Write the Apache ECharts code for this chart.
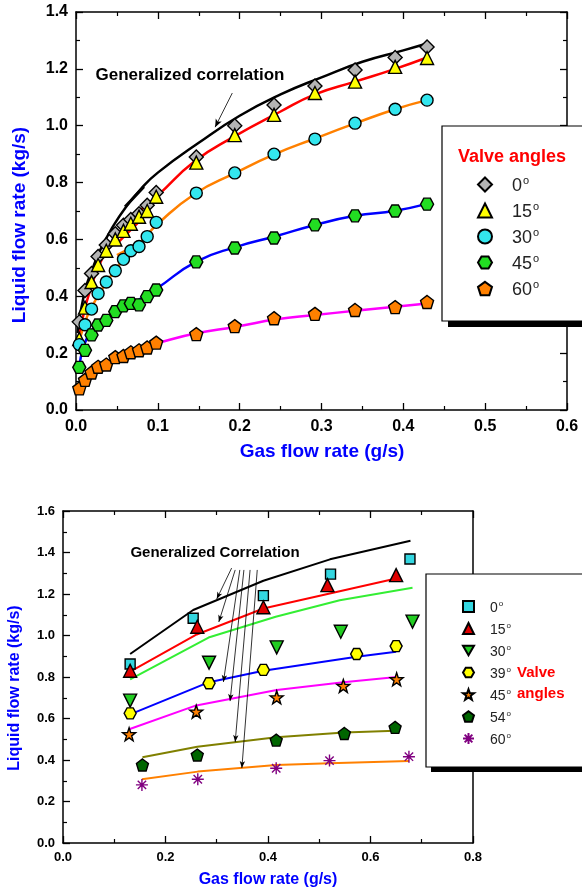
<!DOCTYPE html>
<html>
<head>
<meta charset="utf-8">
<style>html,body{margin:0;padding:0;background:#fff}#main{width:582px;height:894px}</style>
<script src="https://cdn.jsdelivr.net/npm/echarts@6/dist/echarts.min.js"></script>
</head>
<body>
<div id="main"></div>
<script>
// ---- upper chart: measured points (g/s, kg/s) ----
var gasLow  = [0.004, 0.011, 0.019, 0.027, 0.037, 0.048, 0.058, 0.067, 0.077, 0.087, 0.098];
var gasHigh = [0.147, 0.194, 0.242, 0.292, 0.341, 0.39, 0.429];
var liq0  = [0.31, 0.42, 0.48, 0.54, 0.58, 0.62, 0.65, 0.67, 0.69, 0.72, 0.765, 0.89, 1.0, 1.073, 1.14, 1.196, 1.24, 1.277];
var liq15 = [0.25, 0.36, 0.45, 0.51, 0.56, 0.60, 0.63, 0.655, 0.68, 0.70, 0.75, 0.87, 0.967, 1.038, 1.115, 1.155, 1.207, 1.238];
var liq30 = [0.23, 0.30, 0.355, 0.41, 0.45, 0.49, 0.53, 0.56, 0.575, 0.61, 0.66, 0.763, 0.834, 0.90, 0.953, 1.009, 1.058, 1.09];
var liq45 = [0.15, 0.21, 0.264, 0.299, 0.315, 0.346, 0.366, 0.375, 0.37, 0.399, 0.422, 0.521, 0.57, 0.605, 0.651, 0.683, 0.70, 0.724];
var liq60 = [0.076, 0.106, 0.132, 0.152, 0.16, 0.186, 0.19, 0.203, 0.21, 0.22, 0.237, 0.267, 0.295, 0.323, 0.338, 0.352, 0.362, 0.38];

// upper chart: fitted curves
var corrX = [0.002, 0.01, 0.02, 0.03, 0.045, 0.06, 0.08, 0.1, 0.15, 0.2, 0.25, 0.3, 0.35, 0.4, 0.43];
var corrY = [0.27, 0.41, 0.495, 0.565, 0.645, 0.71, 0.78, 0.835, 0.94, 1.035, 1.11, 1.17, 1.225, 1.265, 1.29];
var fit15X = [0.003, 0.008, 0.015, 0.03, 0.05, 0.078, 0.1, 0.145, 0.192, 0.25, 0.292, 0.341, 0.39, 0.429];
var fit15Y = [0.24, 0.32, 0.40, 0.52, 0.615, 0.70, 0.755, 0.875, 0.96, 1.05, 1.11, 1.155, 1.20, 1.24];
var fit30X = [0.003, 0.01, 0.017, 0.033, 0.054, 0.082, 0.1, 0.145, 0.194, 0.243, 0.292, 0.341, 0.39, 0.429];
var fit30Y = [0.23, 0.30, 0.35, 0.43, 0.515, 0.60, 0.655, 0.76, 0.833, 0.90, 0.955, 1.008, 1.058, 1.09];
var fit45X = [0.004, 0.009, 0.017, 0.029, 0.046, 0.062, 0.078, 0.099, 0.147, 0.196, 0.245, 0.292, 0.341, 0.39, 0.429];
var fit45Y = [0.152, 0.22, 0.27, 0.305, 0.334, 0.363, 0.39, 0.428, 0.522, 0.574, 0.612, 0.651, 0.683, 0.701, 0.725];
var fit60X = [0.004, 0.013, 0.029, 0.05, 0.078, 0.099, 0.147, 0.196, 0.245, 0.292, 0.341, 0.39, 0.429];
var fit60Y = [0.07, 0.111, 0.147, 0.188, 0.217, 0.235, 0.27, 0.293, 0.319, 0.334, 0.349, 0.363, 0.375];
// short fits through the 0.05-0.09 g/s points
var short0X  = [0.06, 0.083], short0Y  = [0.715, 0.785];
var shortX   = [0.05, 0.09];
var short15Y = [0.585, 0.70];
var short30Y = [0.545, 0.605];
var short45Y = [0.355, 0.39];
var short60Y = [0.19, 0.225];

// ---- lower chart: measured points ----
var b0X  = [0.131, 0.254, 0.391, 0.522, 0.677], b0Y  = [0.863, 1.083, 1.192, 1.296, 1.369];
var b15X = [0.131, 0.262, 0.391, 0.516, 0.65],  b15Y = [0.83, 1.042, 1.136, 1.243, 1.291];
var b30X = [0.131, 0.285, 0.417, 0.542, 0.682], b30Y = [0.686, 0.869, 0.943, 1.018, 1.067];
var b39X = [0.131, 0.285, 0.391, 0.573, 0.65],  b39Y = [0.625, 0.77, 0.834, 0.911, 0.949];
var b45X = [0.129, 0.26, 0.417, 0.547, 0.651],  b45Y = [0.524, 0.633, 0.702, 0.757, 0.789];
var b54X = [0.155, 0.262, 0.416, 0.549, 0.648], b54Y = [0.376, 0.424, 0.496, 0.528, 0.557];
var b60X = [0.154, 0.263, 0.416, 0.52, 0.675],  b60Y = [0.28, 0.307, 0.36, 0.397, 0.416];

// lower chart: generalized correlation lines
var c0X  = [0.131, 0.254, 0.391, 0.521, 0.678], c0Y  = [0.911, 1.123, 1.264, 1.367, 1.457];
var c15X = [0.131, 0.261, 0.391, 0.65],         c15Y = [0.826, 1.005, 1.13, 1.275];
var c30X = [0.131, 0.284, 0.415, 0.54, 0.682],  c30Y = [0.789, 0.99, 1.09, 1.17, 1.23];
var c39X = [0.131, 0.285, 0.391, 0.573, 0.65],  c39Y = [0.62, 0.775, 0.83, 0.898, 0.922];
var c45X = [0.129, 0.26, 0.417, 0.547, 0.651],  c45Y = [0.548, 0.663, 0.737, 0.775, 0.80];
var c54X = [0.155, 0.262, 0.416, 0.549, 0.648], c54Y = [0.413, 0.464, 0.51, 0.532, 0.541];
var c60X = [0.154, 0.263, 0.416, 0.52, 0.675],  c60Y = [0.307, 0.344, 0.376, 0.384, 0.395];

// annotation arrows, [from, to] in data units
var topArrows = [[[0.191, 1.115], [0.170, 0.995]]];
var botArrows = [
    [[0.329, 1.325], [0.300, 1.176]],
    [[0.336, 1.316], [0.304, 1.065]],
    [[0.345, 1.316], [0.313, 0.776]],
    [[0.353, 1.316], [0.326, 0.684]],
    [[0.365, 1.316], [0.336, 0.487]],
    [[0.379, 1.316], [0.349, 0.361]]
];

var FONT = 'Arial, "Liberation Sans", sans-serif';
var HEX = 'path://M-10,0 L-5,-8.66 L5,-8.66 L10,0 L5,8.66 L-5,8.66 Z';
var PENT = 'path://M0,-10 L9.51,-3.09 L5.88,8.09 L-5.88,8.09 L-9.51,-3.09 Z';
var STAR = 'path://M0,-10 L2.35,-3.24 L9.51,-3.09 L3.8,1.24 L5.88,8.09 L0,4 L-5.88,8.09 L-3.8,1.24 L-9.51,-3.09 L-2.35,-3.24 Z';
var DOWN = 'path://M-10,-8 L10,-8 L0,9 Z';
var ASTER = 'path://M0,-10 L0,10 M-10,0 L10,0 M-7,-7 L7,7 M-7,7 L7,-7';

function zip(xs, ys) {
    return xs.map(function (x, i) { return [x, ys[i]]; });
}

function arrowLines(list) {
    return list.map(function (a) { return [{ coord: a[0] }, { coord: a[1] }]; });
}

function axis(grid, pos, max, step, opts) {
    var main = pos === 'bottom' || pos === 'left';
    return {
        type: 'value', gridIndex: grid, position: pos, min: 0, max: max, interval: step,
        axisLine: { show: true, onZero: false, lineStyle: { color: '#000', width: 1.5 } },
        axisTick: { show: opts.ticks, inside: true, length: 7, lineStyle: { color: '#000', width: 1.3 } },
        minorTick: { show: opts.ticks, splitNumber: 2, length: 4, lineStyle: { color: '#000', width: 1.2 } },
        splitLine: { show: false },
        axisLabel: {
            show: main, margin: opts.margin, fontFamily: FONT, fontWeight: 'bold',
            fontSize: opts.size, color: '#000',
            formatter: function (v) { return v.toFixed(1); }
        }
    };
}

function scatter(name, xi, xs, ys, symbol, size, fill, border) {
    return {
        name: name, type: 'scatter', xAxisIndex: xi, yAxisIndex: xi,
        data: zip(xs, ys), symbol: symbol, symbolSize: size, z: 4,
        itemStyle: { color: fill, borderColor: border || '#000', borderWidth: 1.4, opacity: 1 }
    };
}

function curve(xi, xs, ys, color, width, smooth) {
    return {
        type: 'line', xAxisIndex: xi, yAxisIndex: xi, data: zip(xs, ys),
        smooth: smooth, symbol: 'none', z: 3,
        lineStyle: { color: color, width: width }
    };
}

function legendBlock(names, left, top, gap, size, icon) {
    var sup = Math.round(size * 0.6);
    return {
        data: names, orient: 'vertical', left: left, top: top, itemGap: gap,
        itemWidth: icon, itemHeight: icon, selectedMode: false, z: 11,
        formatter: function (n) { return '{n|' + n.slice(1) + '}{s|o}'; },
        textStyle: {
            fontFamily: FONT, fontSize: size, color: '#222', padding: [0, 0, 0, size - 3],
            rich: {
                n: { fontFamily: FONT, fontSize: size, color: '#222', lineHeight: size + 3, verticalAlign: 'bottom' },
                s: { fontFamily: FONT, fontSize: sup, color: '#222', lineHeight: sup,
                     verticalAlign: 'bottom', padding: [0, 0, Math.round(size * 0.5), 1] }
            }
        }
    };
}

var chart = echarts.init(document.getElementById('main'));

var topAll = gasLow.concat(gasHigh);

var series = [
    curve(0, corrX, corrY, '#000', 2.5, true),
    curve(0, fit15X, fit15Y, '#ff0000', 2.5, true),
    curve(0, fit30X, fit30Y, '#ff8000', 2.5, true),
    curve(0, fit45X, fit45Y, '#0000ff', 2.5, true),
    curve(0, fit60X, fit60Y, '#ff00ff', 2.5, true),
    curve(0, short0X, short0Y, '#000', 3, false),
    curve(0, shortX, short15Y, '#ff0000', 2.5, false),
    curve(0, shortX, short30Y, '#ff8000', 2.5, false),
    curve(0, shortX, short45Y, '#0000ff', 2.5, false),
    curve(0, shortX, short60Y, '#ff00ff', 2.5, false),
    scatter('T0', 0, topAll, liq0, 'diamond', 14, '#b4b4b4'),
    scatter('T15', 0, topAll, liq15, 'triangle', 13, '#ffff00'),
    scatter('T30', 0, topAll, liq30, 'circle', 12, '#33e6ee'),
    scatter('T45', 0, topAll, liq45, HEX, [13, 12], '#22dd22'),
    scatter('T60', 0, topAll, liq60, PENT, 13, '#ff8000'),

    curve(2, c0X, c0Y, '#000', 2, false),
    curve(2, c15X, c15Y, '#ff0000', 2, false),
    curve(2, c30X, c30Y, '#33ee33', 2, false),
    curve(2, c39X, c39Y, '#0000ff', 2, false),
    curve(2, c45X, c45Y, '#ff00ff', 2, false),
    curve(2, c54X, c54Y, '#808000', 2, false),
    curve(2, c60X, c60Y, '#ff8000', 2, false),
    scatter('B0', 2, b0X, b0Y, 'rect', 10, '#33d6e0'),
    scatter('B15', 2, b15X, b15Y, 'triangle', 13, '#e00000'),
    scatter('B30', 2, b30X, b30Y, DOWN, 13, '#22cc22'),
    scatter('B39', 2, b39X, b39Y, HEX, [12, 11], '#ffff00'),
    scatter('B45', 2, b45X, b45Y, STAR, 13, '#ff8000'),
    scatter('B54', 2, b54X, b54Y, PENT, 12, '#006600'),
    scatter('B60', 2, b60X, b60Y, ASTER, 12, '#800080', '#800080')
];

// arrows from the "Generalized correlation" labels
series[0].markLine = {
    silent: true, symbol: ['none', 'arrow'], symbolSize: [5, 8], label: { show: false },
    lineStyle: { color: '#000', width: 0.8, type: 'solid' }, data: arrowLines(topArrows)
};
series[15].markLine = {
    silent: true, symbol: ['none', 'arrow'], symbolSize: [4, 7], label: { show: false },
    lineStyle: { color: '#000', width: 0.8, type: 'solid' }, data: arrowLines(botArrows)
};

chart.setOption({
    animation: false,
    backgroundColor: '#fff',
    grid: [
        { left: 76, top: 12, width: 491, height: 398 },
        { left: 63, top: 511, width: 410, height: 332 }
    ],
    xAxis: [
        axis(0, 'bottom', 0.6, 0.1, { ticks: true, margin: 9, size: 16 }),
        axis(0, 'top', 0.6, 0.1, { ticks: true }),
        axis(1, 'bottom', 0.8, 0.2, { ticks: true, margin: 8, size: 13 }),
        axis(1, 'top', 0.8, 0.2, { ticks: true })
    ],
    yAxis: [
        axis(0, 'left', 1.4, 0.2, { ticks: true, margin: 8, size: 16 }),
        axis(0, 'right', 1.4, 0.2, { ticks: true }),
        axis(1, 'left', 1.6, 0.2, { ticks: true, margin: 8, size: 13 }),
        axis(1, 'right', 1.6, 0.2, { ticks: false })
    ],
    legend: [
        legendBlock(['T0', 'T15', 'T30', 'T45', 'T60'], 472, 170, 6, 18, 14),
        legendBlock(['B0', 'B15', 'B30', 'B39', 'B45', 'B54', 'B60'], 457, 595, 7, 14, 11)
    ],
    graphic: [
        // legend boxes with a solid offset shadow
        { type: 'rect', z: 9, shape: { x: 448, y: 132, width: 160, height: 195 }, style: { fill: '#000' } },
        { type: 'rect', z: 10, shape: { x: 442, y: 126, width: 160, height: 195 },
          style: { fill: '#fff', stroke: '#000', lineWidth: 1.2 } },
        { type: 'rect', z: 9, shape: { x: 431, y: 579, width: 170, height: 193 }, style: { fill: '#000' } },
        { type: 'rect', z: 10, shape: { x: 426, y: 574, width: 170, height: 193 },
          style: { fill: '#fff', stroke: '#000', lineWidth: 1.2 } },
        { type: 'text', z: 11, x: 512, y: 157,
          style: { text: 'Valve angles', fill: '#ff0000', font: 'bold 18px ' + FONT, textAlign: 'center', textVerticalAlign: 'middle' } },
        { type: 'text', z: 11, x: 517, y: 673,
          style: { text: 'Valve', fill: '#ff0000', font: 'bold 15px ' + FONT, textAlign: 'left', textVerticalAlign: 'middle' } },
        { type: 'text', z: 11, x: 517, y: 694,
          style: { text: 'angles', fill: '#ff0000', font: 'bold 15px ' + FONT, textAlign: 'left', textVerticalAlign: 'middle' } },
        { type: 'text', z: 11, x: 190, y: 75,
          style: { text: 'Generalized correlation', fill: '#000', font: 'bold 17px ' + FONT, textAlign: 'center', textVerticalAlign: 'middle' } },
        { type: 'text', z: 11, x: 215, y: 553,
          style: { text: 'Generalized Correlation', fill: '#000', font: 'bold 15px ' + FONT, textAlign: 'center', textVerticalAlign: 'middle' } },
        { type: 'text', z: 11, x: 322, y: 452,
          style: { text: 'Gas flow rate (g/s)', fill: '#0000ff', font: 'bold 19px ' + FONT, textAlign: 'center', textVerticalAlign: 'middle' } },
        { type: 'text', z: 11, x: 20, y: 225, rotation: Math.PI / 2,
          style: { text: 'Liquid flow rate (kg/s)', fill: '#0000ff', font: 'bold 19px ' + FONT, textAlign: 'center', textVerticalAlign: 'middle' } },
        { type: 'text', z: 11, x: 268, y: 880,
          style: { text: 'Gas flow rate (g/s)', fill: '#0000ff', font: 'bold 16px ' + FONT, textAlign: 'center', textVerticalAlign: 'middle' } },
        { type: 'text', z: 11, x: 15, y: 688, rotation: Math.PI / 2,
          style: { text: 'Liquid flow rate (kg/s)', fill: '#0000ff', font: 'bold 16px ' + FONT, textAlign: 'center', textVerticalAlign: 'middle' } }
    ],
    series: series
});
</script>
</body>
</html>
